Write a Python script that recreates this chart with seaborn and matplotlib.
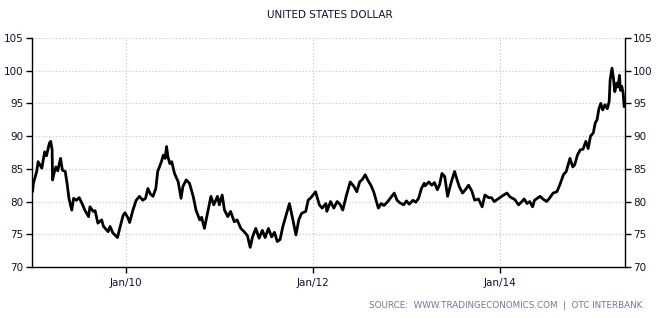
import numpy as np
import pandas as pd
import matplotlib
matplotlib.use("Agg")
import matplotlib.pyplot as plt
import matplotlib.dates as mdates
import seaborn as sns

# decimal-year positions and index values
years = [2009.00, 2009.01, 2009.045, 2009.06, 2009.10, 2009.13, 2009.15, 2009.18, 2009.195, 2009.21,
         2009.215, 2009.23, 2009.25, 2009.27, 2009.30, 2009.32, 2009.35, 2009.37, 2009.39, 2009.42,
         2009.44, 2009.47, 2009.50, 2009.53, 2009.56, 2009.60, 2009.615, 2009.65, 2009.67, 2009.70,
         2009.74, 2009.76, 2009.81, 2009.83, 2009.86, 2009.91, 2009.93, 2009.97, 2009.99, 2010.025,
         2010.04, 2010.075, 2010.11, 2010.145, 2010.18, 2010.21, 2010.235, 2010.26, 2010.29, 2010.32,
         2010.34, 2010.38, 2010.40, 2010.42, 2010.435, 2010.45, 2010.47, 2010.49, 2010.52, 2010.56,
         2010.59, 2010.61, 2010.645, 2010.68, 2010.72, 2010.75, 2010.79, 2010.81, 2010.84, 2010.88,
         2010.91, 2010.94, 2010.98, 2011.00, 2011.03, 2011.055, 2011.09, 2011.12, 2011.16, 2011.19,
         2011.23, 2011.265, 2011.30, 2011.33, 2011.355, 2011.39, 2011.425, 2011.46, 2011.49, 2011.525,
         2011.56, 2011.59, 2011.62, 2011.65, 2011.68, 2011.71, 2011.75, 2011.78, 2011.82, 2011.85,
         2011.88, 2011.925, 2011.95, 2011.98, 2012.03, 2012.07, 2012.10, 2012.14, 2012.15, 2012.19,
         2012.225, 2012.26, 2012.29, 2012.32, 2012.36, 2012.40, 2012.44, 2012.47, 2012.50, 2012.53,
         2012.56, 2012.59, 2012.62, 2012.65, 2012.70, 2012.73, 2012.76, 2012.80, 2012.87, 2012.90,
         2012.93, 2012.97, 2013.00, 2013.03, 2013.07, 2013.10, 2013.13, 2013.16, 2013.19, 2013.20,
         2013.24, 2013.27, 2013.30, 2013.33, 2013.355, 2013.38, 2013.41, 2013.44, 2013.48, 2013.515,
         2013.54, 2013.565, 2013.60, 2013.63, 2013.665, 2013.70, 2013.73, 2013.77, 2013.81, 2013.84,
         2013.88, 2013.91, 2013.94, 2013.99, 2014.03, 2014.075, 2014.11, 2014.16, 2014.20, 2014.235,
         2014.26, 2014.29, 2014.32, 2014.35, 2014.37, 2014.43, 2014.46, 2014.50, 2014.53, 2014.57,
         2014.61, 2014.64, 2014.68, 2014.71, 2014.75, 2014.78, 2014.80, 2014.83, 2014.86, 2014.89,
         2014.92, 2014.945, 2014.97, 2015.00, 2015.02, 2015.04, 2015.06, 2015.08, 2015.10, 2015.125,
         2015.15, 2015.17, 2015.18, 2015.20, 2015.215, 2015.23, 2015.25, 2015.265, 2015.28, 2015.29,
         2015.305, 2015.32, 2015.33]
values = [81.5, 82.8, 84.6, 86.1, 85.1, 87.6, 87.0, 88.9, 89.2, 87.9,
          83.3, 84.3, 85.3, 84.7, 86.6, 84.8, 84.6, 82.8, 80.5, 78.7,
          80.5, 80.2, 80.6, 79.7, 78.7, 77.7, 79.2, 78.5, 78.6, 76.7,
          77.2, 76.2, 75.4, 76.2, 75.2, 74.5, 75.7, 77.9, 78.3, 77.4,
          76.8, 78.7, 80.2, 80.8, 80.2, 80.5, 82.0, 81.2, 80.8, 82.0,
          84.6, 86.1, 87.1, 86.6, 88.4, 86.8, 85.8, 86.1, 84.3, 83.0,
          80.5, 82.3, 83.3, 82.8, 80.8, 78.7, 77.2, 77.6, 75.9, 78.7,
          80.8, 79.5, 80.8, 79.5, 81.0, 78.7, 77.7, 78.5, 76.9, 77.2,
          75.9, 75.4, 74.8, 73.0, 74.6, 75.9, 74.4, 75.6, 74.5, 75.9,
          74.6, 75.3, 73.9, 74.2, 76.2, 77.7, 79.7, 77.7, 74.9, 77.2,
          78.2, 78.5, 80.2, 80.6, 81.5, 79.5, 79.0, 79.7, 78.5, 80.0,
          79.0, 80.0, 79.6, 78.7, 81.0, 83.0, 82.3, 81.5, 83.0, 83.4,
          84.1, 83.2, 82.5, 81.5, 79.0, 79.7, 79.4, 80.0, 81.3, 80.2,
          79.8, 79.5, 80.1, 79.6, 80.2, 79.9, 80.5, 82.0, 82.8, 82.4,
          83.0, 82.5, 82.9, 81.8, 82.6, 84.3, 83.8, 80.8, 83.0, 84.6,
          83.4, 82.3, 81.3, 81.8, 82.5, 81.6, 80.2, 80.4, 79.2, 81.0,
          80.6, 80.6, 80.0, 80.5, 80.9, 81.3, 80.7, 80.3, 79.5, 80.0,
          80.4, 79.7, 80.0, 79.2, 80.2, 80.8, 80.4, 80.0, 80.5, 81.3,
          81.5, 82.5, 84.1, 84.6, 86.6, 85.3, 85.6, 87.1, 87.9, 88.0,
          89.2, 88.1, 90.0, 90.5, 92.0, 92.5, 94.2, 95.0, 94.0, 94.8,
          94.2, 95.3, 98.6, 100.4, 98.9, 96.8, 98.1, 97.5, 99.3, 97.0,
          97.6, 96.5, 94.5]

tick_years = [2010, 2012, 2014]
tick_labels = ["Jan/10", "Jan/12", "Jan/14"]
y_ticks = [70, 75, 80, 85, 90, 95, 100, 105]


def to_date(y):
    yr = int(np.floor(y))
    start = pd.Timestamp(year=yr, month=1, day=1)
    end = pd.Timestamp(year=yr + 1, month=1, day=1)
    return start + (end - start) * (y - yr)


df = pd.DataFrame({"date": [to_date(y) for y in years], "value": values})

sns.set_style("white")
plt.rcParams["font.family"] = ["DejaVu Sans"]

fig = plt.figure(figsize=(6.59, 3.18), dpi=100)
ax = fig.add_axes([0.0486, 0.1604, 0.8995, 0.7201])

sns.lineplot(data=df, x="date", y="value", ax=ax, color="black", linewidth=2.0)

ax.set_xlim(to_date(2008.995), to_date(2015.337))
ax.set_ylim(70, 105)
ax.set_xticks([to_date(y) for y in tick_years])
ax.set_xticklabels(tick_labels)
ax.set_yticks(y_ticks)
ax.set_xlabel("")
ax.set_ylabel("")

ax.grid(True, linestyle=(0, (1, 2)), color="#c0c0c0", linewidth=0.8)
for side in ["left", "right", "bottom"]:
    ax.spines[side].set_visible(True)
    ax.spines[side].set_color("black")
    ax.spines[side].set_linewidth(1.0)
ax.spines["top"].set_visible(False)

ax.tick_params(axis="y", which="both", left=True, right=True, labelleft=True, labelright=True,
               direction="out", length=4, width=1, colors="black", labelcolor="#111133", labelsize=7.5, pad=2)
ax.tick_params(axis="x", bottom=True, direction="out", length=4, width=1, colors="black",
               labelcolor="#111133", labelsize=7.5, pad=4)

fig.text(0.5, 0.952, "UNITED STATES DOLLAR", ha="center", va="center", fontsize=7.5, color="#111133")
fig.text(0.975, 0.038, "SOURCE:  WWW.TRADINGECONOMICS.COM  |  OTC INTERBANK", ha="right", va="center",
         fontsize=6.3, color="#6a7c95")

fig.savefig("out.png", dpi=100)
